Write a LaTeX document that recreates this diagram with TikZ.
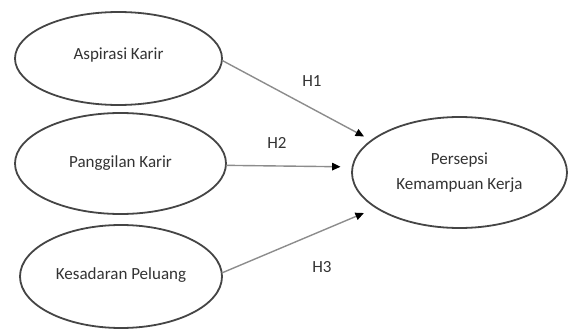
\documentclass[tikz,border=0pt]{standalone}
\usepackage{fontspec}
\setmainfont{Carlito}
\usetikzlibrary{shapes.geometric,arrows.meta}
\definecolor{ringc}{HTML}{454545}
\definecolor{linec}{HTML}{8C8C8C}
\definecolor{txtc}{HTML}{333333}
\tikzset{
  varbox/.style={ellipse,draw=ringc,line width=1.8pt,inner sep=0pt,outer sep=0pt,
    text=txtc,align=center,font=\fontsize{17}{25}\selectfont},
  hlabel/.style={text=txtc,inner sep=0pt,font=\fontsize{17}{20}\selectfont},
  conn/.style={draw=linec,line width=1.4pt,-{Triangle[length=8.5pt,width=7.5pt,color=black]}}
}
\begin{document}
\begin{tikzpicture}[x=1pt,y=-1pt]
\useasboundingbox (0,0) rectangle (568,329);
\node[varbox,minimum width=207pt,minimum height=93pt] (asp) at (118.5,58.5) {\raisebox{9pt}{Aspirasi Karir}};
\node[varbox,minimum width=211pt,minimum height=101pt] (pan) at (120.5,163.5) {\raisebox{1pt}{Panggilan Karir}};
\node[varbox,minimum width=202pt,minimum height=103pt] (kes) at (121,276.5) {\raisebox{6pt}{Kesadaran Peluang}};
\node[varbox,minimum width=215pt,minimum height=111pt] (per) at (459.5,172.5) {Persepsi\\Kemampuan Kerja};
\draw[conn,shorten >=8.6pt] (asp.-1) -- (per.160.3);
\draw[conn,shorten >=12pt] (pan.-1.4) -- (per.177.8);
\draw[conn,shorten >=13.6pt] (kes.2) -- (per.203);
\node[hlabel] (h1) at (312,81) {H1};
\node[hlabel] (h2) at (277,143) {H2};
\node[hlabel] (h3) at (322,267) {H3};
\end{tikzpicture}
\end{document}
